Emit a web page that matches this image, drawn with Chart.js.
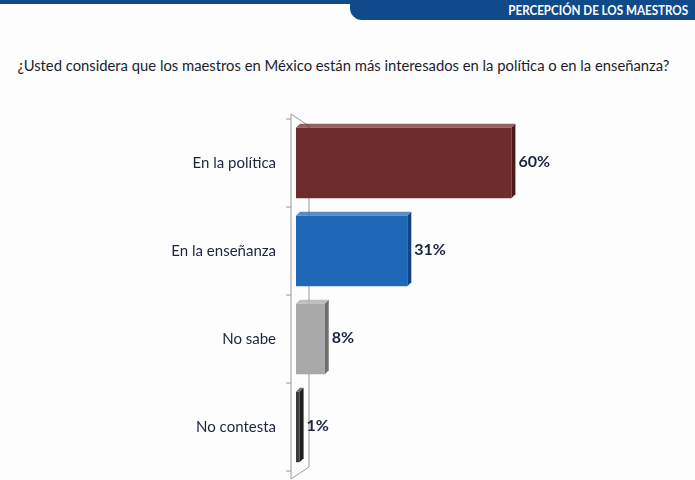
<!DOCTYPE html>
<html>
<head>
<meta charset="utf-8">
<script src="https://cdn.jsdelivr.net/npm/chart.js@4"></script>
<style>
  body { margin: 0; background: #fff; font-family: Lato, "Open Sans", sans-serif; }
  #page { position: relative; width: 695px; height: 480px; overflow: hidden; background: #fdfdfe; }
  #topline { position: absolute; left: 0; top: 0; width: 695px; height: 4px; background: #0f4a8a; }
  #tab { position: absolute; right: 0; top: 0; width: 345px; height: 20px; background: #0f4a8a;
         border-bottom-left-radius: 12px; }
  #tab span { position: absolute; right: 7px; top: 2px; color: #fff; font-weight: bold; font-size: 13.5px;
              transform: scaleX(0.86); transform-origin: right center; white-space: nowrap; }
  #title { position: absolute; left: 0; top: 56px; width: 687px; text-align: center;
           font-size: 14.8px; color: #1c1c2c; }
  #wrap { position: absolute; left: 0; top: 90px; width: 695px; height: 410px; }
</style>
</head>
<body>
<div id="page">
  <div id="topline"></div>
  <div id="tab"><span>PERCEPCIÓN DE LOS MAESTROS</span></div>
  <div id="title">¿Usted considera que los maestros en México están más interesados en la política o en la enseñanza?</div>
  <div id="wrap"><canvas id="myChart"></canvas></div>
</div>
<script>
// datos de la gráfica
const categories = ['En la política', 'En la enseñanza', 'No sabe', 'No contesta'];
const values = [60, 31, 8, 1];
const barColors = ['#6f2c2c', '#1f68b8', '#a9a9a9', '#3b3b3b'];
const sideColors = ['#4a1a1a', '#124482', '#6e6e6e', '#1e1e1e'];

// dibuja la pared del eje y la profundidad de las barras
const wallPlugin = {
    id: 'wall',
    beforeDatasetsDraw(chart) {
        const ctx = chart.ctx;
        const area = chart.chartArea;
        const front = area.left - 5;
        const back = area.left + 13;
        ctx.save();
        ctx.strokeStyle = '#9a9a9a';
        ctx.lineWidth = 1;
        ctx.beginPath();
        ctx.moveTo(front, area.top - 5);
        ctx.lineTo(front, area.bottom + 8);
        ctx.lineTo(back, area.bottom - 4);
        ctx.moveTo(front, area.top - 5);
        ctx.lineTo(back, area.top + 7);
        ctx.lineTo(back, area.bottom - 4);
        // ticks entre categorias
        const n = categories.length;
        for (let i = 0; i <= n; i++) {
            const y = area.top + (area.bottom - area.top) * i / n;
            ctx.moveTo(front - 5, y);
            ctx.lineTo(front, y);
        }
        ctx.stroke();
        ctx.restore();
    },
    afterDatasetsDraw(chart) {
        const ctx = chart.ctx;
        const meta = chart.getDatasetMeta(0);
        const d = 4;
        ctx.save();
        meta.data.forEach((bar, i) => {
            const top = bar.y - bar.height / 2;
            const bottom = bar.y + bar.height / 2;
            // cara lateral
            ctx.fillStyle = sideColors[i];
            ctx.beginPath();
            ctx.moveTo(bar.x, top);
            ctx.lineTo(bar.x + d, top - d);
            ctx.lineTo(bar.x + d, bottom - d);
            ctx.lineTo(bar.x, bottom);
            ctx.closePath();
            ctx.fill();
            // cara superior
            ctx.fillStyle = barColors[i];
            ctx.globalAlpha = 0.75;
            ctx.beginPath();
            ctx.moveTo(bar.base, top);
            ctx.lineTo(bar.base + d, top - d);
            ctx.lineTo(bar.x + d, top - d);
            ctx.lineTo(bar.x, top);
            ctx.closePath();
            ctx.fill();
            ctx.globalAlpha = 1;
            // etiqueta de valor
            ctx.fillStyle = '#1c2540';
            ctx.font = 'bold 16px Lato, "Open Sans", sans-serif';
            ctx.textAlign = 'left';
            ctx.textBaseline = 'middle';
            ctx.fillText(values[i] + '%', bar.x + d + 3, bar.y - 1);
        });
        ctx.restore();
    }
};

const chart = new Chart(document.getElementById('myChart'), {
    type: 'bar',
    data: {
        labels: categories,
        datasets: [{
            data: values,
            backgroundColor: barColors,
            borderWidth: 0,
            categoryPercentage: 1,
            barPercentage: 0.8
        }]
    },
    options: {
        indexAxis: 'y',
        responsive: true,
        maintainAspectRatio: false,
        animation: false,
        layout: { padding: { top: 18, bottom: 0, right: 40, left: 0 } },
        plugins: {
            legend: { display: false },
            tooltip: { enabled: false }
        },
        scales: {
            x: {
                display: false,
                min: 0,
                max: 100
            },
            y: {
                afterFit(scale) { scale.width = 296; },
                grid: { display: false, drawTicks: false },
                border: { display: false },
                ticks: {
                    padding: 20,
                    color: '#1c2540',
                    font: { family: 'Lato, "Open Sans", sans-serif', size: 15 }
                }
            }
        }
    },
    plugins: [wallPlugin]
});
</script>
</body>
</html>
